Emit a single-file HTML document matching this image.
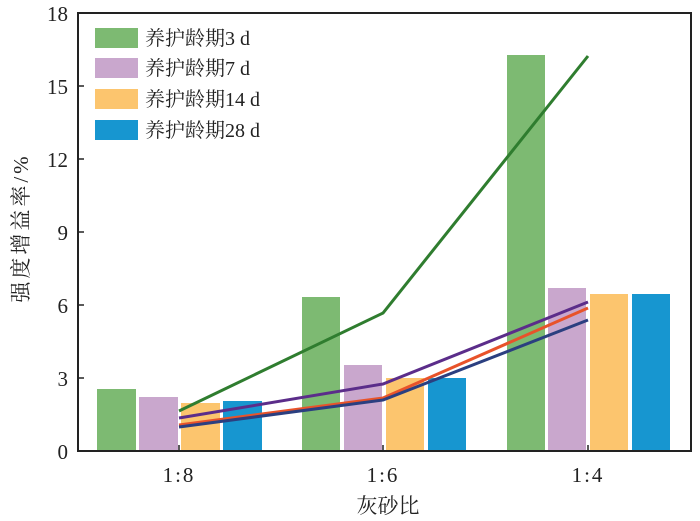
<!DOCTYPE html><html><head><meta charset="utf-8"><style>body{margin:0;background:#fff}svg{display:block}text{font-family:"Liberation Serif","Noto Serif CJK SC",serif;fill:#222}</style></head><body>
<svg width="700" height="521" xmlns="http://www.w3.org/2000/svg">
<g>
<rect x="97" y="389" width="39" height="62" fill="#7dba72"/>
<rect x="139" y="397" width="39" height="54" fill="#c9a7cd"/>
<rect x="181" y="403" width="39" height="48" fill="#fcc56e"/>
<rect x="223" y="401" width="39" height="50" fill="#1796d0"/>
<rect x="302" y="297" width="38" height="154" fill="#7dba72"/>
<rect x="344" y="365" width="38" height="86" fill="#c9a7cd"/>
<rect x="386" y="378" width="38" height="73" fill="#fcc56e"/>
<rect x="428" y="378" width="38" height="73" fill="#1796d0"/>
<rect x="507" y="55" width="38" height="396" fill="#7dba72"/>
<rect x="548" y="288" width="38" height="163" fill="#c9a7cd"/>
<rect x="590" y="294" width="38" height="157" fill="#fcc56e"/>
<rect x="632" y="294" width="38" height="157" fill="#1796d0"/>
</g>
<g fill="none" stroke-width="3">
<polyline points="179,411 383,313 588,56" stroke="#2f7d2f"/>
<polyline points="179,418 383,384 588,302" stroke="#5b2d8a"/>
<polyline points="179,425 383,398 588,308" stroke="#e8532a"/>
<polyline points="179,427 383,400 588,320" stroke="#2b3f80"/>
</g>
<rect x="78" y="13" width="613" height="438" fill="none" stroke="#222" stroke-width="2"/>
<g stroke="#222" stroke-width="1.5">
<line x1="78" y1="378" x2="84" y2="378"/><line x1="78" y1="305" x2="84" y2="305"/><line x1="78" y1="232" x2="84" y2="232"/><line x1="78" y1="159" x2="84" y2="159"/><line x1="78" y1="86" x2="84" y2="86"/>
<line x1="179" y1="451" x2="179" y2="445"/><line x1="383" y1="451" x2="383" y2="445"/><line x1="588" y1="451" x2="588" y2="445"/>
</g>
<g font-size="21" text-anchor="end">
<text x="68" y="459">0</text><text x="68" y="386">3</text><text x="68" y="313">6</text><text x="68" y="240">9</text><text x="68" y="167">12</text><text x="68" y="94">15</text><text x="68" y="21">18</text>
</g>
<g font-size="21" text-anchor="middle">
<text x="179" y="482" letter-spacing="2">1:8</text><text x="383" y="482" letter-spacing="2">1:6</text><text x="588" y="482" letter-spacing="2">1:4</text>
<text x="388" y="513">灰砂比</text>
<text transform="translate(28,228) rotate(-90)" letter-spacing="3">强度增益率/%</text>
</g>
<g font-size="20">
<rect x="95" y="28" width="43" height="20" fill="#7dba72"/><text x="145" y="45">养护龄期3 d</text>
<rect x="95" y="58" width="43" height="20" fill="#c9a7cd"/><text x="145" y="75">养护龄期7 d</text>
<rect x="95" y="89" width="43" height="20" fill="#fcc56e"/><text x="145" y="106">养护龄期14 d</text>
<rect x="95" y="120" width="43" height="20" fill="#1796d0"/><text x="145" y="137">养护龄期28 d</text>
</g>
</svg></body></html>
